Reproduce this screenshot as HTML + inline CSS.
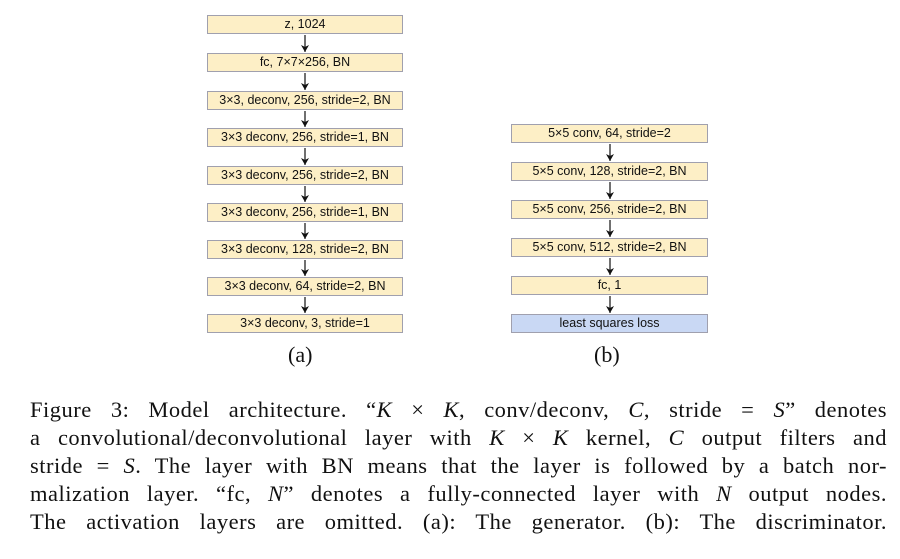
<!DOCTYPE html>
<html><head><style>
body{margin:0;width:900px;height:559px;background:#fff;position:relative;overflow:hidden}
.b{position:absolute;height:17px;border:1.5px solid #a0a0ae;background:#fdefc6;font:12.5px "Liberation Sans",sans-serif;text-align:center;line-height:17px;color:#111;box-sizing:content-box;white-space:nowrap}
.l{left:207px;width:194px}
.r{left:511px;width:195px}
.blue{background:#c9d8f4}
.sub{position:absolute;font:22px "Liberation Serif",serif;color:#111}
.cap{position:absolute;left:30px;top:396px;width:857px;font:22.5px/28px "Liberation Serif",serif;letter-spacing:0.5px;color:#111}
.cap div{text-align:justify;text-align-last:justify;white-space:nowrap}
svg{position:absolute;left:0;top:0}
</style></head><body>
<svg width="900" height="559">
<defs><marker id="a" markerWidth="8" markerHeight="8" refX="7" refY="4" orient="auto" markerUnits="userSpaceOnUse"><path d="M0,0 L7,4 L0,8 L2,4 Z" fill="#111"/></marker></defs>
<g stroke="#111" stroke-width="1.2" marker-end="url(#a)">
<line x1="305" y1="35" x2="305" y2="52"/>
<line x1="305" y1="73" x2="305" y2="90"/>
<line x1="305" y1="111" x2="305" y2="127"/>
<line x1="305" y1="148" x2="305" y2="165"/>
<line x1="305" y1="186" x2="305" y2="202"/>
<line x1="305" y1="223" x2="305" y2="239"/>
<line x1="305" y1="260" x2="305" y2="276"/>
<line x1="305" y1="297" x2="305" y2="313"/>
<line x1="610" y1="144" x2="610" y2="161"/>
<line x1="610" y1="182" x2="610" y2="199"/>
<line x1="610" y1="220" x2="610" y2="237"/>
<line x1="610" y1="258" x2="610" y2="275"/>
<line x1="610" y1="296" x2="610" y2="313"/>
</g></svg>
<div class="b l" style="top:15px">z, 1024</div>
<div class="b l" style="top:53px">fc, 7×7×256, BN</div>
<div class="b l" style="top:91px">3×3, deconv, 256, stride=2, BN</div>
<div class="b l" style="top:128px">3×3 deconv, 256, stride=1, BN</div>
<div class="b l" style="top:166px">3×3 deconv, 256, stride=2, BN</div>
<div class="b l" style="top:203px">3×3 deconv, 256, stride=1, BN</div>
<div class="b l" style="top:240px">3×3 deconv, 128, stride=2, BN</div>
<div class="b l" style="top:277px">3×3 deconv, 64, stride=2, BN</div>
<div class="b l" style="top:314px">3×3 deconv, 3, stride=1</div>
<div class="b r" style="top:124px">5×5 conv, 64, stride=2</div>
<div class="b r" style="top:162px">5×5 conv, 128, stride=2, BN</div>
<div class="b r" style="top:200px">5×5 conv, 256, stride=2, BN</div>
<div class="b r" style="top:238px">5×5 conv, 512, stride=2, BN</div>
<div class="b r" style="top:276px">fc, 1</div>
<div class="b r blue" style="top:314px">least squares loss</div>
<div class="sub" style="left:288px;top:342px">(a)</div>
<div class="sub" style="left:594px;top:342px">(b)</div>
<div class="cap">
<div>Figure 3: Model architecture. “<i>K</i> × <i>K</i>, conv/deconv, <i>C</i>, stride = <i>S</i>” denotes</div>
<div>a convolutional/deconvolutional layer with <i>K</i> × <i>K</i> kernel, <i>C</i> output filters and</div>
<div>stride = <i>S</i>. The layer with BN means that the layer is followed by a batch nor-</div>
<div>malization layer. “fc, <i>N</i>” denotes a fully-connected layer with <i>N</i> output nodes.</div>
<div>The activation layers are omitted. (a): The generator. (b): The discriminator.</div>
</div>
</body></html>
